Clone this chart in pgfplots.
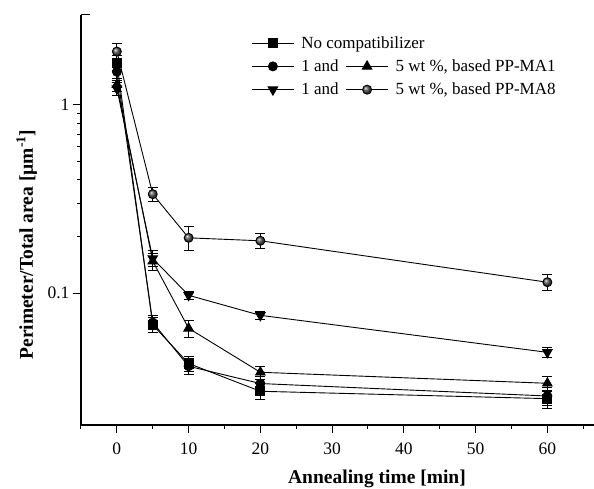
\documentclass[border=0pt]{standalone}
\usepackage{fontspec}
\setmainfont{Liberation Serif}
\usepackage{pgfplots}
\pgfplotsset{compat=1.18}
\begin{document}
\begin{tikzpicture}
\begin{axis}[
  scale only axis, width=513pt, height=410pt,
  xmin=-5, xmax=66.5, ymin=0.02, ymax=3,
  ymode=log,
  axis x line*=bottom, axis y line*=left,
  axis line style={line width=1.1pt, -},
  xtick={0,10,...,60}, minor xtick={-5,5,15,25,35,45,55,65},
  ytick={0.1,1},
  log ticks with fixed point,
  tick align=outside,
  major tick length=8pt, minor tick length=4pt,
  tick style={line width=1pt, black},
  extra y ticks={3}, extra y tick labels={},
  extra y tick style={tick align=inside, major tick length=9pt},
  /pgf/number format/assume math mode=true,
  tick label style={font=\fontsize{17.5}{20}\selectfont},
  xticklabel style={yshift=-6pt},
  xlabel={Annealing time [min]},
  ylabel={Perimeter/Total area [µm\textsuperscript{-1}]},
  label style={font=\fontsize{19.5}{22}\selectfont\bfseries},
  xlabel style={at={(axis description cs:0.577,-0.131)}, anchor=center},
  ylabel style={at={(axis description cs:-0.106,0.44)}, anchor=center},
  legend columns=2,
  legend cell align=left,
  legend image code/.code={\draw[#1,mark=none] (0pt,0pt) -- (42pt,0pt);
     \draw[#1] plot coordinates {(21pt,0pt)};},
  legend style={draw=none, fill=none, at={(axis description cs:0.326,0.958)}, anchor=north west,
    font=\fontsize{17}{20}\selectfont, row sep=6pt, column sep=3pt,
    nodes={inner xsep=4pt}},
  every axis plot/.append style={black, line width=0.9pt, mark size=4.5pt},
  error bars/y dir=both, error bars/y explicit,
  error bars/error bar style={line width=0.9pt},
  error bars/error mark options={rotate=90, mark size=5pt, line width=0.9pt, black},
]
% legend
\addlegendimage{black, line width=0.9pt, mark=square*, mark size=4.5pt}
\addlegendentry{\makebox[0pt][l]{No compatibilizer}}
\addlegendimage{empty legend}
\addlegendentry{}
\addlegendimage{black, line width=0.9pt, mark=*, mark size=4.5pt}
\addlegendentry{1 and}
\addlegendimage{black, line width=0.9pt, mark=triangle*, mark size=5.5pt}
\addlegendentry{5 wt \%, based PP-MA1}
\addlegendimage{black, line width=0.9pt, mark=triangle*, mark size=5.5pt, mark options={rotate=180}}
\addlegendentry{1 and}
\addlegendimage{black, line width=0.9pt, mark=ball, mark size=4.5pt, mark options={ball color=gray!65!black}}
\addlegendentry{5 wt \%, based PP-MA8}

% No compatibilizer
\addplot[forget plot, black, line width=0.9pt, mark=square*, mark size=4.5pt]
 coordinates {(0,1.67) +- (0,0.15) (5,0.068) +- (0,0.006) (10,0.0424) +- (0,0.004) (20,0.0302) +- (0,0.003) (60,0.0276) +- (0,0.003)};
% 1 wt% PP-MA1
\addplot[forget plot, black, line width=0.9pt, mark=*, mark size=4.5pt]
 coordinates {(0,1.5) +- (0,0.15) (5,0.070) +- (0,0.006) (10,0.041) +- (0,0.004) (20,0.0332) +- (0,0.003) (60,0.0285) +- (0,0.003)};
% 5 wt% PP-MA1
\addplot[forget plot, black, line width=0.9pt, mark=triangle*, mark size=5.5pt]
 coordinates {(0,1.28) +- (0,0.1) (5,0.148) +- (0,0.015) (10,0.0652) +- (0,0.007) (20,0.0381) +- (0,0.003) (60,0.0333) +- (0,0.003)};
% 1 wt% PP-MA8
\addplot[forget plot, black, line width=0.9pt, mark=triangle*, mark size=5.5pt, mark options={rotate=180}]
 coordinates {(0,1.22) +- (0,0.1) (5,0.153) +- (0,0.015) (10,0.0976) +- (0,0.005) (20,0.0764) +- (0,0.004) (60,0.0486) +- (0,0.003)};
% 5 wt% PP-MA8
\addplot[forget plot, black, line width=0.9pt, mark=ball, mark size=4.5pt, mark options={ball color=gray!65!black}]
 coordinates {(0,1.92) +- (0,0.2) (5,0.336) +- (0,0.03) (10,0.197) +- (0,0.028) (20,0.19) +- (0,0.018) (60,0.1145) +- (0,0.011)};
\end{axis}
\pgfresetboundingbox
\path ([xshift=-81pt,yshift=-64pt]current axis.south west) rectangle ([yshift=15pt]current axis.north east);
\end{tikzpicture}
\end{document}
